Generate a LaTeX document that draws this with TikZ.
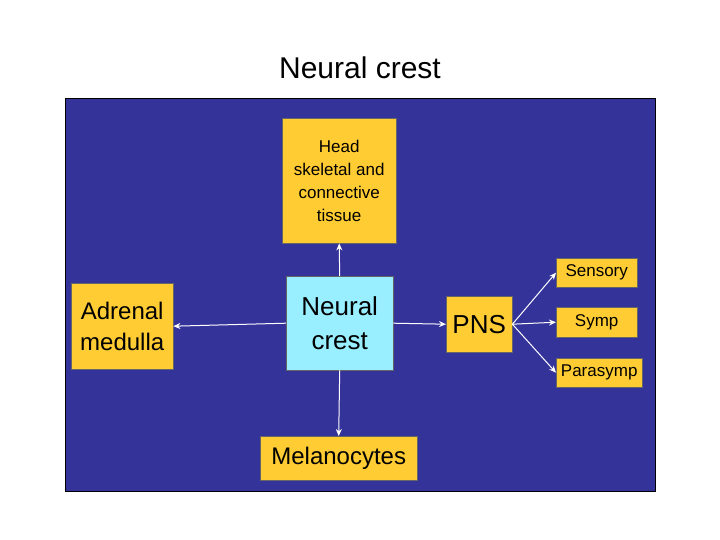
\documentclass[tikz,border=0pt]{standalone}
\usepackage{fontspec}
\setmainfont{Liberation Sans}
\usetikzlibrary{arrows.meta}
\definecolor{panel}{HTML}{333399}
\definecolor{gold}{HTML}{FFCC33}
\definecolor{cyanbox}{HTML}{99EEFF}
\begin{document}
\begin{tikzpicture}[x=1pt,y=-1pt,
  box/.style={draw=black!60,line width=0.4pt,fill=gold,inner sep=0pt,align=center,anchor=north west},
  arr/.style={draw=white,line width=1pt,-{Stealth[length=7pt,width=6pt]}}]
\useasboundingbox (0,0) rectangle (720,540);
\fill[white] (0,0) rectangle (720,540);
\node[font=\fontsize{30}{36}\selectfont] (title) at (360,68) {Neural crest};
\draw[black,fill=panel] (65,98) rectangle (655,491);
\node[box,minimum width=114pt,minimum height=125pt,font=\fontsize{17}{23}\selectfont] (head) at (282,118) {Head\\skeletal and\\connective\\tissue};
\node[box,fill=cyanbox,minimum width=107pt,minimum height=94pt,font=\fontsize{26}{34}\selectfont] (nc) at (286,276) {Neural\\crest};
\node[box,minimum width=102pt,minimum height=86pt,font=\fontsize{24}{31}\selectfont] (adr) at (71,283) {Adrenal\\medulla};
\node[box,minimum width=66pt,minimum height=56pt,font=\fontsize{26}{30}\selectfont] (pns) at (446,296) {PNS};
\node[box,minimum width=81pt,minimum height=29pt,font=\fontsize{17}{20}\selectfont] (sens) at (556,258) {Sensory};
\node[box,minimum width=81pt,minimum height=30pt,font=\fontsize{17}{20}\selectfont] (symp) at (556,307) {Symp};
\node[box,minimum width=86pt,minimum height=29pt,font=\fontsize{17}{20}\selectfont] (para) at (556,358) {Parasymp};
\node[box,minimum width=157pt,minimum height=44pt,font=\fontsize{24}{28}\selectfont] (mel) at (260,436) {Melanocytes};
\draw[arr] (nc.north) -- (head.south);
\draw[arr] (nc.west) -- (adr.east);
\draw[arr] (nc.east) -- (pns.west);
\draw[arr] (nc.south) -- (mel.north);
\draw[arr] (pns.east) -- (sens.west);
\draw[arr] (pns.east) -- (symp.west);
\draw[arr] (pns.east) -- (para.west);
\end{tikzpicture}
\end{document}
